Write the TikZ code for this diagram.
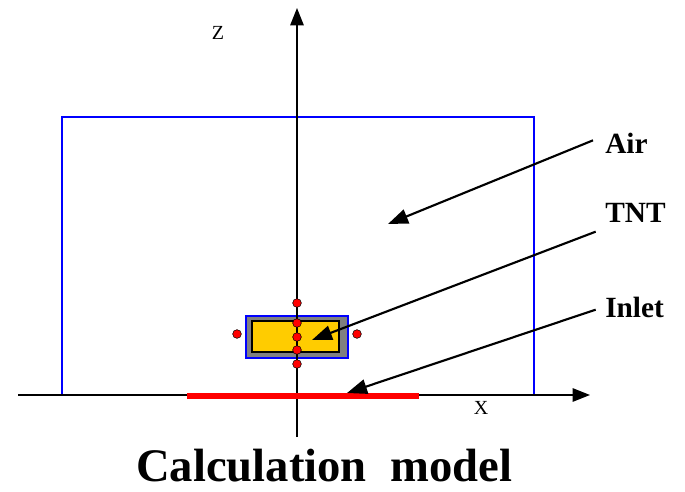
\documentclass[tikz,border=0pt]{standalone}
\usepackage{fontspec}
\setmainfont{Liberation Serif}
\usetikzlibrary{arrows.meta,positioning}
\definecolor{tntyellow}{rgb}{1.00,0.80,0.00}
\definecolor{boxgray}{rgb}{0.50,0.50,0.50}

\begin{document}
\begin{tikzpicture}[x=0.75pt,y=-0.75pt,
   axis/.style={line width=1.4pt,-{Triangle[length=13pt,width=10pt]}},
   pointer/.style={line width=1.6pt,-{Triangle[length=15pt,width=11pt]}},
   lbl/.style={font=\fontsize{22}{24}\selectfont\bfseries,anchor=west,inner sep=0pt},
   axlbl/.style={font=\fontsize{15}{17}\selectfont,inner sep=0pt},
   gauge/.style={circle,fill=red,draw=black,thin,inner sep=0pt,minimum size=6.5pt}]
  \useasboundingbox (0,0) rectangle (685,492);
  % domain and charge
  \draw[blue,line width=1.4pt] (62,394) -- (62,117) -- (534,117) -- (534,394);
  \draw[blue,line width=1.4pt,fill=boxgray] (246,316) rectangle (348,358);
  \draw[line width=1.4pt,fill=tntyellow] (252,321) rectangle (339,352);
  % axes
  \coordinate (xs) at (18,395);
  \coordinate (xe) at (590,395);
  \coordinate (zs) at (297,437);
  \coordinate (ze) at (297,8);
  \draw[axis] (xs) -- (xe);
  \draw[axis] (zs) -- (ze);
  \draw[red,line width=3.8pt] (187,396) -- (419,396);
  \node[axlbl] (zlbl) at (218,33) {Z};
  \node[axlbl] (xlbl) at (481,408) {X};
  % gauges
  \foreach \gy [count=\i] in {303,323,337,350,364}
    \node[gauge] (g\i) at (297,\gy) {};
  \node[gauge] (gl) at (237,334) {};
  \node[gauge] (gr) at (357,334) {};
  % labels
  \node[lbl] (air) at (605,143) {Air};
  \node[lbl] (tnt) at (605,213) {TNT};
  \node[lbl] (inlet) at (605,307) {Inlet};
  \coordinate (airend) at (388,224);
  \coordinate (tntend) at (312,340);
  \coordinate (inletend) at (347,393);
  \draw[pointer] ([xshift=-9pt,yshift=2pt]air.west) -- (airend);
  \draw[pointer] ([xshift=-7pt,yshift=-14pt]tnt.west) -- (tntend);
  \draw[pointer] ([xshift=-7pt,yshift=-2pt]inlet.west) -- (inletend);
  \node[font=\fontsize{35}{38}\selectfont\bfseries,anchor=base,inner sep=0pt,
        text depth=0pt] (title) at (324,481) {Calculation\ \ model};
\end{tikzpicture}
\end{document}
